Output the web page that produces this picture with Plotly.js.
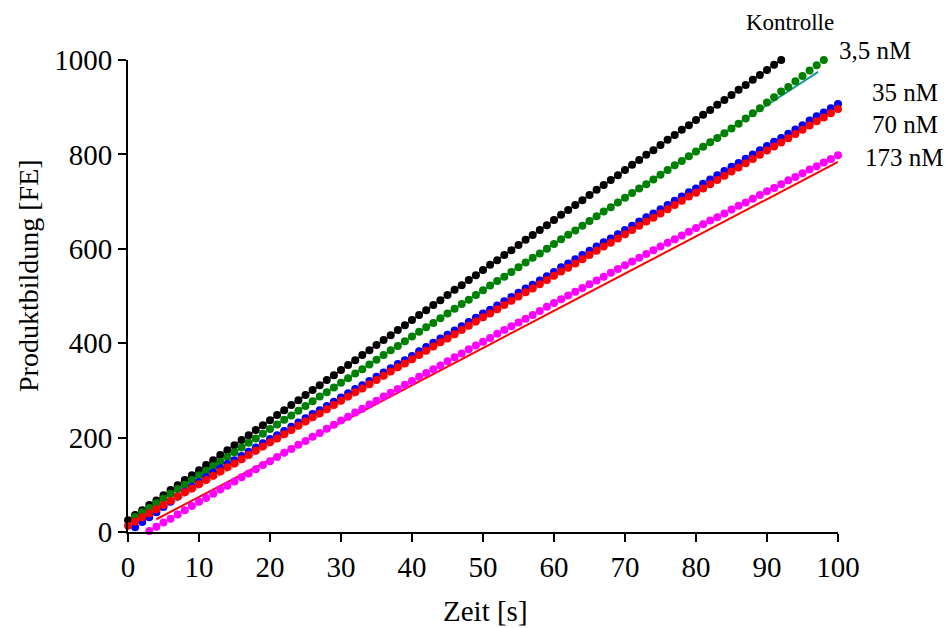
<!DOCTYPE html>
<html>
<head>
<meta charset="utf-8">
<script src="https://cdn.plot.ly/plotly-3.0.1.min.js"></script>
<style>
html,body{margin:0;padding:0;background:#fff;}
#chart{width:948px;height:628px;}
</style>
</head>
<body>
<div id="chart"></div>
<script>
// ---- data ----
const seriesLabels = ["Kontrolle", "3,5 nM", "35 nM", "70 nM", "173 nM"];

const timeKontrolle = [0,1,2,3,4,5,6,7,8,9,10,11,12,13,14,15,16,17,18,19,20,21,22,23,24,25,26,27,28,29,30,31,32,33,34,35,36,37,38,39,40,41,42,43,44,45,46,47,48,49,50,51,52,53,54,55,56,57,58,59,60,61,62,63,64,65,66,67,68,69,70,71,72,73,74,75,76,77,78,79,80,81,82,83,84,85,86,87,88,89,90,91,92];
const valuesKontrolle = [25,36,46,57,67,78,89,99,110,120,131,142,152,163,173,184,195,205,216,226,237,248,258,269,279,290,301,311,322,332,343,354,364,375,385,396,407,417,428,438,449,460,470,481,491,502,513,523,534,544,555,566,576,587,597,608,619,629,640,650,661,672,682,693,703,714,725,735,746,756,767,778,788,799,809,820,831,841,852,862,873,884,894,905,915,926,937,947,958,968,979,990,1000];

const time3_5 = [1,2,3,4,5,6,7,8,9,10,11,12,13,14,15,16,17,18,19,20,21,22,23,24,25,26,27,28,29,30,31,32,33,34,35,36,37,38,39,40,41,42,43,44,45,46,47,48,49,50,51,52,53,54,55,56,57,58,59,60,61,62,63,64,65,66,67,68,69,70,71,72,73,74,75,76,77,78,79,80,81,82,83,84,85,86,87,88,89,90,91,92,93,94,95,96,97,98];
const values3_5 = [32,42,51,61,71,81,91,100,110,120,130,140,149,159,169,179,189,198,208,218,228,238,247,257,267,277,287,296,306,316,326,336,345,355,365,375,385,394,404,414,424,434,443,453,463,473,483,492,502,512,522,532,541,551,561,571,581,590,600,610,620,630,639,649,659,669,679,688,698,708,718,728,737,747,757,767,777,786,796,806,816,826,835,845,855,865,876,887,898,910,921,933,943,955,966,978,989,1000];

const time35 = [1,2,3,4,5,6,7,8,9,10,11,12,13,14,15,16,17,18,19,20,21,22,23,24,25,26,27,28,29,30,31,32,33,34,35,36,37,38,39,40,41,42,43,44,45,46,47,48,49,50,51,52,53,54,55,56,57,58,59,60,61,62,63,64,65,66,67,68,69,70,71,72,73,74,75,76,77,78,79,80,81,82,83,84,85,86,87,88,89,90,91,92,93,94,95,96,97,98,99,100];
const values35 = [10,21,31,42,53,64,75,86,96,106,116,126,135,144,152,161,170,179,188,197,205,214,223,232,241,250,258,267,276,285,294,303,311,320,329,338,347,356,364,373,383,392,401,410,418,427,436,445,454,463,471,480,489,498,507,516,524,533,542,551,561,569,578,587,596,605,614,622,631,640,649,658,667,675,684,693,702,711,720,728,738,747,756,765,774,782,791,800,809,818,827,835,844,853,862,872,881,889,898,907];

const time70 = [0,1,2,3,4,5,6,7,8,9,10,11,12,13,14,15,16,17,18,19,20,21,22,23,24,25,26,27,28,29,30,31,32,33,34,35,36,37,38,39,40,41,42,43,44,45,46,47,48,49,50,51,52,53,54,55,56,57,58,59,60,61,62,63,64,65,66,67,68,69,70,71,72,73,74,75,76,77,78,79,80,81,82,83,84,85,86,87,88,89,90,91,92,93,94,95,96,97,98,99,100];
const values70 = [13,22,31,39,48,57,66,75,84,92,101,110,119,128,137,145,154,163,172,181,190,198,207,216,225,234,243,251,260,269,278,287,296,304,313,322,331,340,349,357,366,375,384,393,402,410,419,428,437,446,455,463,472,481,490,499,508,516,525,534,543,552,560,569,578,587,596,605,613,622,631,640,649,658,666,675,684,693,702,711,719,728,737,746,755,764,772,781,790,799,808,817,825,834,843,852,861,870,878,887,896];

const time173 = [3,4,5,6,7,8,9,10,11,12,13,14,15,16,17,18,19,20,21,22,23,24,25,26,27,28,29,30,31,32,33,34,35,36,37,38,39,40,41,42,43,44,45,46,47,48,49,50,51,52,53,54,55,56,57,58,59,60,61,62,63,64,65,66,67,68,69,70,71,72,73,74,75,76,77,78,79,80,81,82,83,84,85,86,87,88,89,90,91,92,93,94,95,96,97,98,99,100];
const values173 = [2,11,20,28,37,46,55,64,72,81,90,98,107,116,124,133,142,150,159,168,176,185,193,202,210,219,227,236,244,253,261,270,278,287,295,303,312,320,329,337,345,353,362,370,378,387,395,403,411,420,428,436,444,452,460,468,477,485,493,501,509,517,525,533,541,549,557,565,573,581,589,597,605,613,620,628,636,644,652,660,667,675,683,691,698,706,714,722,729,737,745,752,760,768,775,783,790,798];

// fitted straight lines: [start time, end time] and [start value, end value]
const fitKontrolleT = [0, 92],   fitKontrolleV = [25, 1000];
const fit3_5T       = [1, 97.2], fit3_5V       = [32, 975];
const fit35_70T     = [1, 99.5], fit35_70V     = [15, 890];
const fit173T       = [4, 100],  fit173V       = [27, 784];

const xTicks = [0,10,20,30,40,50,60,70,80,90,100];
const yTicks = [0,200,400,600,800,1000];

// ---- styles ----
const dotColors  = ["#000000", "#008000", "#0000ff", "#ff0000", "#ff00ff"];
const FONT = "Liberation Serif, Times New Roman, serif";

function fitLine(t, v, color, w) {
  return {x: t, y: v, mode: "lines", type: "scatter", hoverinfo: "skip",
          line: {color: color, width: w}, showlegend: false, cliponaxis: false};
}
function dots(t, v, color, name) {
  return {x: t, y: v, mode: "markers", type: "scatter", name: name,
          marker: {color: color, size: 8, line: {width: 0}},
          showlegend: false, cliponaxis: false};
}

const traces = [
  fitLine(fitKontrolleT, fitKontrolleV, "#a020a0", 2),
  fitLine(fit3_5T, fit3_5V, "#109a9a", 2),
  fitLine(fit35_70T, fit35_70V, "#b4b4b4", 2),
  fitLine(fit173T, fit173V, "#ff0000", 2),
  dots(timeKontrolle, valuesKontrolle, dotColors[0], seriesLabels[0]),
  dots(time3_5, values3_5, dotColors[1], seriesLabels[1]),
  dots(time35, values35, dotColors[2], seriesLabels[2]),
  dots(time70, values70, dotColors[3], seriesLabels[3]),
  dots(time173, values173, dotColors[4], seriesLabels[4])
];

const L = 128, R = 110, T = 60, B = 96, PW = 948 - L - R, PH = 628 - T - B;
const px = v => (v - L) / PW;
const py = v => (628 - B - v) / PH;

const labelPos = [[790, 22, 23], [875, 51, 25], [905, 92, 25], [905, 125, 25], [904, 157, 25]];
const annotations = seriesLabels.map((s, i) => ({
  text: s, xref: "paper", yref: "paper", x: px(labelPos[i][0]), y: py(labelPos[i][1]),
  xanchor: "center", yanchor: "middle", showarrow: false,
  font: {family: FONT, size: labelPos[i][2], color: "#000"}
}));
annotations.push({text: "Zeit [s]", xref: "paper", yref: "paper", x: px(485), y: py(611),
  xanchor: "center", yanchor: "middle", showarrow: false, font: {family: FONT, size: 29, color: "#000"}});
annotations.push({text: "Produktbildung [FE]", xref: "paper", yref: "paper", x: px(28), y: py(276),
  xanchor: "center", yanchor: "middle", textangle: -90, showarrow: false, font: {family: FONT, size: 28, color: "#000"}});

const axisCommon = {showline: true, linecolor: "#000", linewidth: 2, ticks: "outside",
  ticklen: 8, tickwidth: 2, tickcolor: "#000", showgrid: false, zeroline: false,
  tickfont: {family: FONT, size: 29, color: "#000"}, fixedrange: true};

const layout = {
  width: 948, height: 628,
  margin: {l: L, r: R, t: T, b: B, pad: 0},
  paper_bgcolor: "#fff", plot_bgcolor: "#fff",
  showlegend: false,
  xaxis: Object.assign({}, axisCommon, {range: [0, 100], tickmode: "array", tickvals: xTicks, ticktext: xTicks.map(String)}),
  yaxis: Object.assign({}, axisCommon, {range: [0, 1000], tickmode: "array", tickvals: yTicks, ticktext: yTicks.map(String)}),
  annotations: annotations
};

Plotly.newPlot("chart", traces, layout, {displayModeBar: false, staticPlot: true});
</script>
</body>
</html>
